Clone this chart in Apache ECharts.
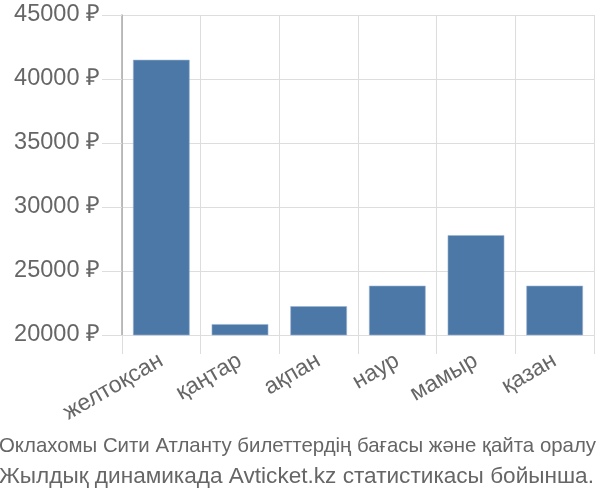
<!DOCTYPE html>
<html><head><meta charset="utf-8">
<script src="https://cdn.jsdelivr.net/npm/echarts@6/dist/echarts.min.js"></script>
<style>html,body{margin:0;padding:0;background:#fff}#c{width:600px;height:500px}</style>
</head><body><div id="c"></div>
<script>
const categories = ['желтоқсан', 'қаңтар', 'ақпан', 'наур', 'мамыр', 'қазан'];
const prices = [41500, 20850, 22250, 23850, 27800, 23850];
const yMin = 20000, yMax = 45000, yStep = 5000;
const currency = '₽';
const titleLines = ['Оклахомы Сити Атланту билеттердің бағасы және қайта оралу', 'Жылдық динамикада Avticket.kz статистикасы бойынша.'];

const titleBase = {fontFamily: 'Liberation Sans, sans-serif', fontWeight: 'normal', color: '#666'};
const chart = echarts.init(document.getElementById('c'), null, {renderer: 'canvas'});
chart.setOption({
  animation: false,
  backgroundColor: '#fff',
  title: [
    {text: titleLines[0], left: -1, top: 436, padding: 0, textStyle: Object.assign({fontSize: 20.4}, titleBase)},
    {text: titleLines[1], left: -1, top: 465, padding: 0, textStyle: Object.assign({fontSize: 22.6}, titleBase)}
  ],
  grid: {left: 122, right: 6, top: 15, bottom: 165},
  xAxis: {
    type: 'category', data: categories,
    axisLine: {show: false},
    axisTick: {show: true, length: 19, lineStyle: {color: '#ddd'}},
    splitLine: {show: true, lineStyle: {color: '#ddd', width: 1}},
    axisLabel: {rotate: 30, margin: 24, fontSize: 23, color: '#666', fontFamily: 'Liberation Sans, sans-serif'}
  },
  yAxis: {
    type: 'value', min: yMin, max: yMax, interval: yStep,
    axisLine: {show: true, lineStyle: {color: '#aaa', width: 1.5}},
    axisTick: {show: true, length: 20, lineStyle: {color: '#ddd'}},
    splitLine: {show: true, lineStyle: {color: '#ddd', width: 1}},
    axisLabel: {formatter: v => v + ' ' + currency, margin: 22, fontSize: 23.5, color: '#666', fontFamily: 'Liberation Sans, sans-serif'}
  },
  series: [{
    type: 'bar', data: prices, barWidth: '72%',
    itemStyle: {color: '#4c78a8', borderColor: '#9ab3d0', borderWidth: 0.6}
  }]
});
</script></body></html>
